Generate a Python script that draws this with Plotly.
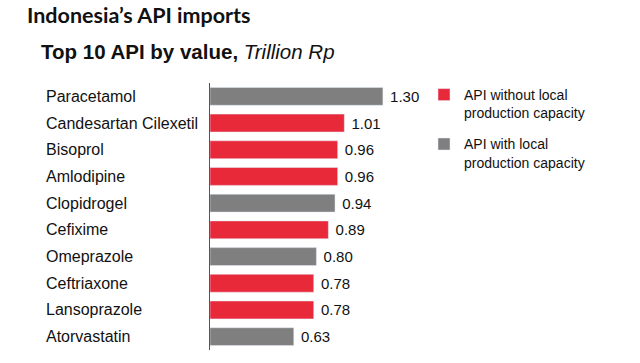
import plotly.graph_objects as go

drugs = ["Paracetamol", "Candesartan Cilexetil", "Bisoprol", "Amlodipine", "Clopidrogel",
         "Cefixime", "Omeprazole", "Ceftriaxone", "Lansoprazole", "Atorvastatin"]
values = [1.30, 1.01, 0.96, 0.96, 0.94, 0.89, 0.80, 0.78, 0.78, 0.63]
no_local = [False, True, True, True, False, True, False, True, True, False]

RED = "#E8293A"
GREY = "#7F7F7F"

red_x = [v if n else None for v, n in zip(values, no_local)]
grey_x = [v if not n else None for v, n in zip(values, no_local)]

fig = go.Figure()
for xs, color, name, grp in [(red_x, RED, "API without local<br>production capacity", "nolocal"),
                             (grey_x, GREY, "API with local<br>production capacity", "local")]:
    fig.add_trace(go.Bar(
        y=drugs, x=xs, orientation="h", marker_color=color, name=name,
        legendgroup=grp,
        texttemplate=" %{x:.2f}",
        textposition="outside", cliponaxis=False,
        textfont=dict(size=15, color="#111111", family="Liberation Sans"),
    ))

PLOT_L, PLOT_R = 210, 640
W = PLOT_R - PLOT_L
for d in drugs:
    fig.add_annotation(xref="paper", yref="y", x=(44 - PLOT_L) / W, y=d,
                       text=d, showarrow=False, xanchor="left",
                       font=dict(size=16, color="#111111", family="Liberation Sans"))

fig.add_annotation(xref="paper", yref="paper", x=(25 - PLOT_L) / W, y=1 + (83 - 15) / 268,
                   text="<b>Indonesia’s API imports</b>", showarrow=False, xanchor="left",
                   yanchor="middle", font=dict(size=21.5, color="#111111", family="Lato"))
fig.add_annotation(xref="paper", yref="paper", x=(39 - PLOT_L) / W, y=1 + (83 - 51) / 268,
                   text="<b>Top 10 API by value, </b><i>Trillion Rp</i>", showarrow=False,
                   xanchor="left", yanchor="middle",
                   font=dict(size=20.5, color="#111111", family="Liberation Sans"))

fig.update_layout(
    width=640, height=363,
    margin=dict(l=PLOT_L, r=0, t=83, b=13),
    paper_bgcolor="white", plot_bgcolor="white",
    barmode="relative", bargap=0.33,
    showlegend=True,
    legend=dict(x=(424 - PLOT_L) / W, y=1.015, xanchor="left", yanchor="top",
                font=dict(size=14, color="#111111", family="Liberation Sans"),
                tracegroupgap=10, itemwidth=30, bgcolor="rgba(0,0,0,0)",
                traceorder="grouped", valign="top"),
    xaxis=dict(range=[0, W / 133.0], visible=False, fixedrange=True),
    yaxis=dict(autorange=False, range=[9.5, -0.5], showticklabels=False, showgrid=False,
               showline=True, linecolor="#555555", linewidth=1, ticks="", zeroline=False,
               fixedrange=True),
)

fig.write_html("out.html", config={"displayModeBar": False},
               post_script="document.body.style.margin='0';")
